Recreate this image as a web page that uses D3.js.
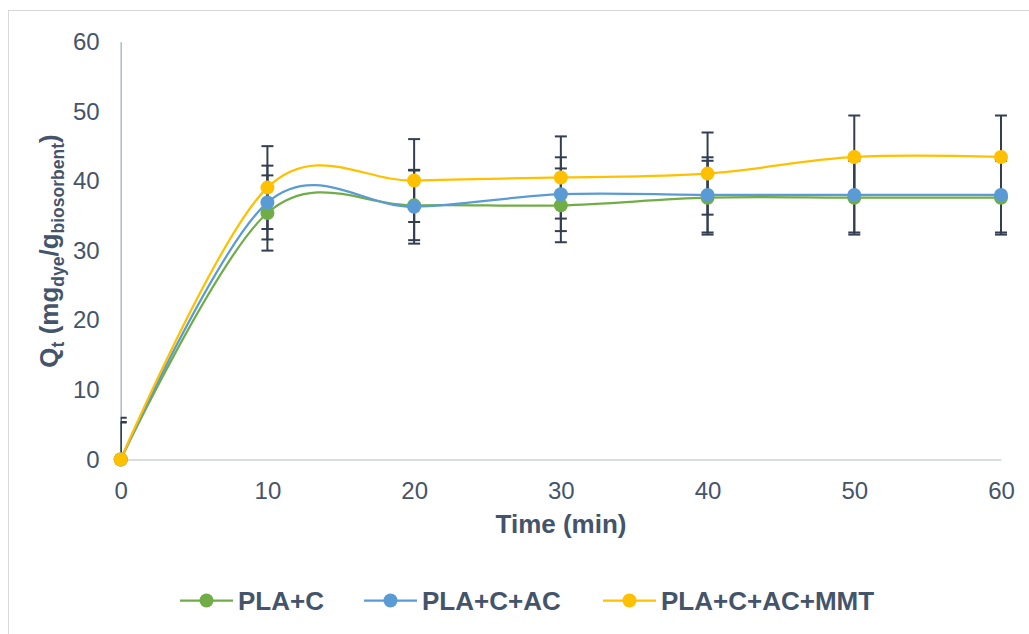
<!DOCTYPE html>
<html>
<head>
<meta charset="utf-8">
<script src="https://cdn.jsdelivr.net/npm/d3@7"></script>
<style>
  body { margin: 0; background: #fff; }
  text { font-family: "Liberation Sans", Arial, sans-serif; fill: #44546A; }
</style>
</head>
<body>
<div id="chart"></div>
<script>
// time points (min)
const times = [0, 10, 20, 30, 40, 50, 60];
const yTicks = [0, 10, 20, 30, 40, 50, 60];
const seriesNames = ["PLA+C", "PLA+C+AC", "PLA+C+AC+MMT"];

// Qt values
const plaC = [0, 35.4, 36.5, 36.5, 37.6, 37.6, 37.6];
const plaCAC = [0, 36.9, 36.3, 38.1, 38.0, 38.0, 38.0];
const plaCACMMT = [0, 39.05, 40.06, 40.5, 41.06, 43.45, 43.45];

// error bar half-widths
const errC = [5.3, 5.4, 5.0, 5.3, 5.3, 5.3, 5.3];
const errCAC = [5.4, 5.3, 5.3, 5.3, 5.4, 5.4, 5.4];
const errCACMMT = [6.0, 5.95, 5.95, 5.9, 5.9, 5.95, 5.95];

const colors = ["#70AD47", "#5B9BD5", "#FFC000"];

const width = 1029, height = 634;
const svg = d3.select("#chart").append("svg").attr("width", width).attr("height", height);

// chart frame
svg.append("rect").attr("x", 8.5).attr("y", 10.5).attr("width", 1040).attr("height", 640)
    .attr("fill", "#fff").attr("stroke", "#D9D9D9").attr("stroke-width", 1);

let x = d3.scaleLinear().domain([0, 60]).range([120.7, 1001]);
let y = d3.scaleLinear().domain([0, 60]).range([459.5, 41.7]);

let series = seriesNames.map((name, i) => ({
    name,
    color: colors[i],
    values: [plaC, plaCAC, plaCACMMT][i],
    errors: [errC, errCAC, errCACMMT][i]
}));

// x axis
let xAxis = d3.axisBottom(x).tickValues(times).tickSize(0).tickPadding(22).tickSizeOuter(0);
let gx = svg.append("g").attr("transform", `translate(0,${y(0)})`).call(xAxis);
gx.select(".domain").attr("stroke", "#D9DDE3").attr("stroke-width", 2);
gx.selectAll("text").style("font-size", "24px").attr("fill", "#44546A");

// y axis
let yAxis = d3.axisLeft(y).tickValues(yTicks).tickSize(0).tickPadding(21).tickSizeOuter(0);
let gy = svg.append("g").attr("transform", `translate(${x(0)},0)`).call(yAxis);
gy.select(".domain").attr("stroke", "#ADB9CA").attr("stroke-width", 1.5);
gy.selectAll("text").style("font-size", "24px").attr("fill", "#44546A");

// error bars, clipped to the plot area like the original
svg.append("clipPath").attr("id", "plot-clip").append("rect")
    .attr("x", x(0)).attr("y", 0).attr("width", x(60) - x(0) + 20).attr("height", y(0));

let capW = 6;
series.forEach(s => {
    let g = svg.append("g").attr("clip-path", "url(#plot-clip)")
        .attr("stroke", "#333F50").attr("stroke-width", 2);
    times.forEach((t, i) => {
        let hi = s.values[i] + s.errors[i];
        let lo = s.values[i] - s.errors[i];
        g.append("line").attr("x1", x(t)).attr("x2", x(t)).attr("y1", y(lo)).attr("y2", y(hi));
        g.append("line").attr("x1", x(t) - capW).attr("x2", x(t) + capW).attr("y1", y(hi)).attr("y2", y(hi));
        g.append("line").attr("x1", x(t) - capW).attr("x2", x(t) + capW).attr("y1", y(lo)).attr("y2", y(lo));
    });
});

// smoothed lines
let line = d3.line().x((d, i) => x(times[i])).y(d => y(d)).curve(d3.curveCardinal.tension(0));
series.forEach(s => {
    svg.append("path").datum(s.values).attr("d", line)
        .attr("fill", "none").attr("stroke", s.color).attr("stroke-width", 2.25);
});

// markers
series.forEach(s => {
    svg.append("g").selectAll("circle").data(s.values).join("circle")
        .attr("cx", (d, i) => x(times[i])).attr("cy", d => y(d)).attr("r", 7)
        .attr("fill", s.color);
});

// axis titles
svg.append("text").attr("x", 561).attr("y", 533)
    .attr("text-anchor", "middle").style("font-size", "26px").style("font-weight", "bold")
    .text("Time (min)");

let yt = svg.append("text").attr("transform", "translate(58,251) rotate(-90)")
    .attr("text-anchor", "middle").style("font-size", "26px").style("font-weight", "bold");
yt.append("tspan").text("Q");
yt.append("tspan").attr("dy", 6).style("font-size", "17.5px").text("t");
yt.append("tspan").attr("dy", -6).text(" (mg");
yt.append("tspan").attr("dy", 6).style("font-size", "17.5px").text("dye");
yt.append("tspan").attr("dy", -6).text("/g");
yt.append("tspan").attr("dy", 6).style("font-size", "17.5px").text("biosorbent");
yt.append("tspan").attr("dy", -6).text(")");

// legend
let legendX = [180, 364, 603];
let legendY = 600.5;
series.forEach((s, i) => {
    let g = svg.append("g").attr("transform", `translate(${legendX[i]},${legendY})`);
    g.append("line").attr("x1", 0).attr("x2", 53).attr("y1", 0).attr("y2", 0)
        .attr("stroke", s.color).attr("stroke-width", 2.25);
    g.append("circle").attr("cx", 26.5).attr("cy", 0).attr("r", 7).attr("fill", s.color);
    g.append("text").attr("x", 58).attr("y", 9.5)
        .style("font-size", "26px").style("font-weight", "bold").text(s.name);
});
</script>
</body>
</html>
